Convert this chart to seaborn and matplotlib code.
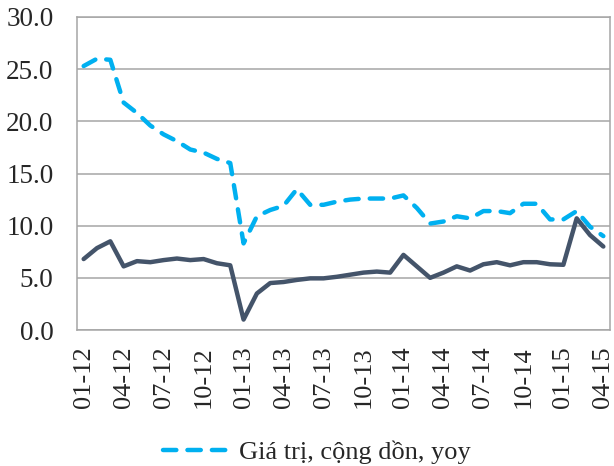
import matplotlib
matplotlib.use('Agg')
import matplotlib.pyplot as plt
import seaborn as sns
import pandas as pd

months = ['%02d-%02d' % (m, y) for y in (12, 13, 14, 15) for m in range(1, 13)][:40]

cumulative_yoy = [25.3, 26.0, 25.9, 21.8, 20.8, 19.6, 18.75, 18.1, 17.3, 17.0,
                  16.4, 16.0, 8.3, 10.9, 11.5, 11.9, 13.5, 12.0, 12.0, 12.3,
                  12.5, 12.6, 12.6, 12.6, 12.9, 11.7, 10.2, 10.4, 10.9, 10.7,
                  11.4, 11.4, 11.2, 12.1, 12.1, 10.6, 10.6, 11.4, 9.9, 9.0]
monthly_yoy = [6.8, 7.85, 8.5, 6.1, 6.6, 6.5, 6.7, 6.85, 6.7, 6.8,
               6.4, 6.2, 1.0, 3.5, 4.5, 4.6, 4.8, 4.95, 4.95, 5.1,
               5.3, 5.5, 5.6, 5.5, 7.2, 6.1, 5.0, 5.5, 6.1, 5.7,
               6.3, 6.5, 6.2, 6.5, 6.5, 6.3, 6.25, 10.7, 9.1, 8.0]

df = pd.DataFrame({'idx': range(len(months)), 'month': months,
                   'cum': cumulative_yoy, 'mon': monthly_yoy})

sns.set_style('white')
plt.rcParams['font.family'] = ['Liberation Serif', 'DejaVu Serif']

fig, ax = plt.subplots(figsize=(6.14, 4.66), dpi=100)
fig.subplots_adjust(left=77/614, right=610/614, top=1-17/466, bottom=1-330/466)

sns.lineplot(data=df, x='idx', y='mon', ax=ax, color='#44546A', linewidth=3.2,
             solid_joinstyle='round', label='_nolegend_')
sns.lineplot(data=df, x='idx', y='cum', ax=ax, color='#00B0F0', linewidth=3.2,
             dashes=False, label='Giá trị, cộng dồn, yoy')
dash_line = ax.lines[-1]
dash_line.set_linestyle((0, (3.0, 2.5)))
dash_line.set_dash_capstyle('round')
dash_line.set_dash_joinstyle('round')

ax.set_xlim(-0.5, len(months) - 0.5)
ax.set_ylim(0, 30)
ax.set_yticks([0, 5, 10, 15, 20, 25, 30])
ax.set_yticklabels(['%.1f' % v for v in [0, 5, 10, 15, 20, 25, 30]], fontsize=19.5)
ax.set_xticks(df['idx'][::3])
ax.set_xticklabels(df['month'][::3], rotation=90, fontsize=19)
ax.tick_params(axis='y', length=0, pad=17)
ax.tick_params(axis='x', length=0, pad=12)
ax.set_xlabel('')
ax.set_ylabel('')
ax.grid(axis='y', color='#A6A6A6', linewidth=1.1)
ax.set_axisbelow(True)
for s in ax.spines.values():
    s.set_color('#A6A6A6')
    s.set_linewidth(1.1)

ax.get_legend().remove()
handles, labels = ax.get_legend_handles_labels()
fig.legend(handles, labels, loc='center', bbox_to_anchor=(317/614, 1-452/466),
           frameon=False, fontsize=19, handlelength=2.4, handletextpad=0.5)

plt.savefig('out.png', dpi=100)
